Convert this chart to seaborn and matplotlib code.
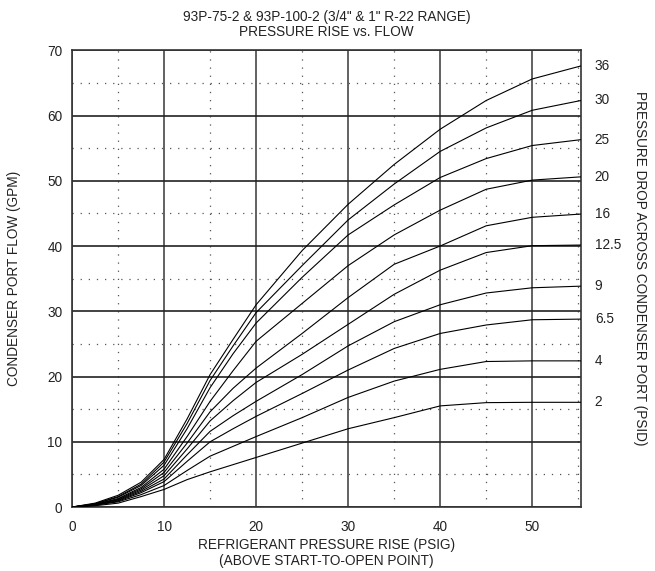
import numpy as np
import pandas as pd
import matplotlib
matplotlib.use("Agg")
import matplotlib.pyplot as plt
import seaborn as sns

sns.set_style("white")
plt.rcParams["font.family"] = ["Liberation Sans", "DejaVu Sans"]

# pressure rise (psig) where each curve was read
rise = [0, 2.5, 5, 7.5, 10, 12.5, 15, 17.5, 20, 25, 30, 35, 40, 45, 50, 55.3]

# condenser port flow (gpm) for each pressure drop (psid)
flow_36 = [0, 0.6, 1.8, 3.8, 7.3, 13.5, 20.3, 25.7, 31.0, 39.3, 46.4, 52.5, 57.9, 62.3, 65.6, 67.6]
flow_30 = [0, 0.5, 1.6, 3.5, 6.9, 12.8, 19.4, 24.7, 29.8, 37.0, 44.0, 49.5, 54.5, 58.1, 60.8, 62.3]
flow_25 = [0, 0.5, 1.5, 3.3, 6.4, 12.0, 18.3, 23.5, 28.2, 35.2, 41.7, 46.3, 50.5, 53.4, 55.4, 56.3]
flow_20 = [0, 0.4, 1.3, 3.0, 5.8, 10.8, 16.2, 20.9, 25.4, 31.2, 37.0, 41.7, 45.5, 48.7, 50.1, 50.6]
flow_16 = [0, 0.4, 1.2, 2.8, 5.3, 9.8, 14.6, 18.2, 21.3, 26.6, 32.1, 37.2, 40.0, 43.1, 44.4, 44.9]
flow_12_5 = [0, 0.4, 1.1, 2.6, 4.8, 8.9, 13.2, 16.3, 19.1, 23.4, 28.0, 32.6, 36.3, 39.0, 40.05, 40.15]
flow_9 = [0, 0.3, 1.0, 2.4, 4.3, 8.0, 11.6, 14.0, 16.2, 20.3, 24.7, 28.4, 31.0, 32.8, 33.6, 33.85]
flow_6_5 = [0, 0.3, 0.9, 2.2, 3.9, 7.0, 10.0, 12.0, 13.9, 17.4, 21.0, 24.3, 26.6, 27.9, 28.7, 28.8]
flow_4 = [0, 0.3, 0.8, 1.9, 3.3, 5.6, 7.8, 9.3, 10.8, 13.7, 16.8, 19.3, 21.1, 22.3, 22.4, 22.4]
flow_2 = [0, 0.2, 0.6, 1.6, 2.7, 4.2, 5.4, 6.5, 7.6, 9.8, 12.0, 13.7, 15.5, 16.0, 16.05, 16.05]

psid_labels = ["36", "30", "25", "20", "16", "12.5", "9", "6.5", "4", "2"]
flows = [flow_36, flow_30, flow_25, flow_20, flow_16, flow_12_5, flow_9, flow_6_5, flow_4, flow_2]

df = pd.concat(
    [pd.DataFrame({"rise": rise, "flow": f, "psid": lab}) for lab, f in zip(psid_labels, flows)],
    ignore_index=True,
)

FS = 9.8
TXT = "#222222"

fig = plt.figure(figsize=(6.55, 5.71), dpi=100)
ax = fig.add_axes([0.110, 0.112, 0.777, 0.800])

# grid: solid every 10, dotted every 5
for v in range(0, 56, 5):
    if v % 10 == 0:
        ax.axvline(v, color="#555555", lw=1.3, zorder=1)
    else:
        ax.axvline(v, color="#555555", lw=0.9, ls=(0, (1, 5.5)), zorder=1)
for v in range(0, 71, 5):
    if v % 10 == 0:
        ax.axhline(v, color="#222222", lw=1.2, zorder=1)
    else:
        ax.axhline(v, color="#555555", lw=0.9, ls=(0, (1, 5.5)), zorder=1)

sns.lineplot(data=df, x="rise", y="flow", hue="psid", palette=["black"] * len(psid_labels),
             linewidth=0.8, legend=False, ax=ax, zorder=3)

# psid labels at the right end of each curve
for lab, f in zip(psid_labels, flows):
    ax.text(rise[-1] + 1.5, f[-1], lab, fontsize=FS, va="center", ha="left",
            color=TXT, clip_on=False)

ax.set_xlim(0, rise[-1])
ax.set_ylim(0, 70)
ax.set_xticks(range(0, 51, 10))
ax.set_yticks(range(0, 71, 10))
ax.tick_params(length=0, labelsize=FS, colors=TXT)
ax.tick_params(axis="x", pad=9)
ax.tick_params(axis="y", pad=7)
for s in ax.spines.values():
    s.set_color("#333333")
    s.set_linewidth(1.2)

ax.set_xlabel("REFRIGERANT PRESSURE RISE (PSIG)\n(ABOVE START-TO-OPEN POINT)",
              fontsize=FS, color=TXT, linespacing=1.2, labelpad=3)
ax.set_ylabel("CONDENSER PORT FLOW (GPM)", fontsize=FS, color=TXT, labelpad=19)
ax.set_title("93P-75-2 & 93P-100-2 (3/4\" & 1\" R-22 RANGE)\nPRESSURE RISE vs. FLOW",
             fontsize=FS, color=TXT, linespacing=1.1, pad=10)
fig.text(0.977, 0.531, "PRESSURE DROP ACROSS CONDENSER PORT (PSID)", rotation=-90,
         fontsize=FS, color=TXT, ha="center", va="center")

fig.savefig("out.png", dpi=100)
